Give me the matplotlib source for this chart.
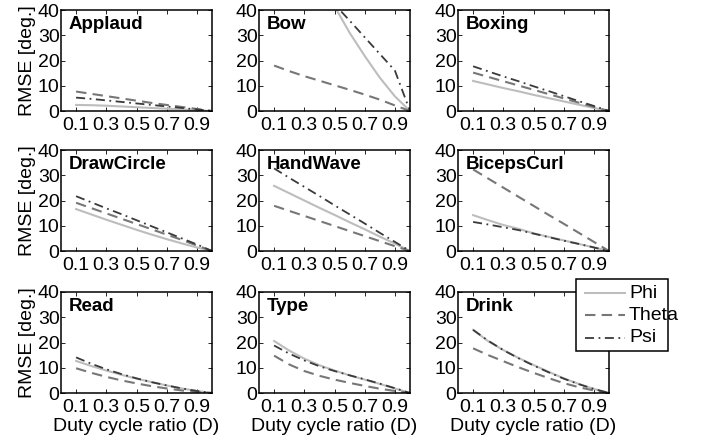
import matplotlib
matplotlib.use("Agg")
import matplotlib.pyplot as plt
from matplotlib.lines import Line2D
from matplotlib.patches import Rectangle

plt.rcParams['font.family'] = ['Liberation Sans', 'DejaVu Sans']

duty = [0.1, 0.2, 0.3, 0.4, 0.5, 0.6, 0.7, 0.8, 0.9, 1.0]
actions = ["Applaud", "Bow", "Boxing", "DrawCircle", "HandWave", "BicepsCurl", "Read", "Type", "Drink"]
series_names = ["Phi", "Theta", "Psi"]

applaud_phi = [2.4, 2.3, 2.1, 1.8, 1.5, 1.2, 0.9, 0.6, 0.3, 0]
applaud_theta = [7.7, 6.8, 5.9, 5.0, 4.1, 3.2, 2.4, 1.6, 0.8, 0]
applaud_psi = [5.3, 4.8, 4.2, 3.6, 3.0, 2.4, 1.8, 1.2, 0.6, 0]

bow_phi = [120, 95, 72, 55, 41.5, 31.0, 21.8, 13.2, 5.8, 0]
bow_theta = [18, 15.8, 13.8, 12, 10.2, 8.4, 6.5, 4.5, 2.2, 0]
bow_psi = [75, 60, 50, 46, 42.3, 35.8, 29.2, 22.6, 16, 0]

boxing_phi = [11.9, 10.5, 9.1, 7.8, 6.4, 5.1, 3.8, 2.5, 1.2, 0]
boxing_theta = [15.2, 13.5, 11.8, 10.1, 8.4, 6.7, 5.0, 3.3, 1.6, 0]
boxing_psi = [17.7, 15.7, 13.7, 11.8, 9.8, 7.9, 5.9, 3.9, 2.0, 0]

drawcircle_phi = [16.6, 14.5, 12.4, 10.4, 8.4, 6.5, 4.7, 3.0, 1.4, 0]
drawcircle_theta = [19.1, 17.0, 14.9, 12.8, 10.7, 8.6, 6.5, 4.4, 2.2, 0]
drawcircle_psi = [21.7, 19.3, 16.9, 14.6, 12.2, 9.8, 7.4, 5.0, 2.6, 0]

handwave_phi = [25.8, 22.9, 20.0, 17.1, 14.3, 11.4, 8.6, 5.7, 2.9, 0]
handwave_theta = [17.9, 15.9, 13.9, 11.9, 9.9, 7.9, 5.9, 3.9, 1.9, 0]
handwave_psi = [32.7, 29.0, 25.4, 21.8, 18.1, 14.5, 10.9, 7.2, 3.6, 0]

bicepscurl_phi = [14.2, 12.2, 10.3, 8.8, 7.0, 5.6, 4.2, 2.8, 1.4, 0]
bicepscurl_theta = [32.3, 28.7, 25.1, 21.5, 17.9, 14.3, 10.8, 7.2, 3.6, 0]
bicepscurl_psi = [11.5, 10.5, 9.4, 8.3, 6.9, 5.5, 4.1, 2.8, 1.4, 0]

read_phi = [12.7, 10.7, 8.9, 7.2, 5.7, 4.3, 3.0, 1.8, 0.8, 0]
read_theta = [9.8, 8.0, 6.4, 5.0, 3.8, 2.7, 1.8, 1.0, 0.4, 0]
read_psi = [14.1, 11.6, 9.4, 7.5, 5.8, 4.3, 3.0, 1.8, 0.8, 0]

type_phi = [20.6, 16.8, 13.6, 11.0, 8.9, 7.0, 5.3, 3.6, 1.8, 0]
type_theta = [14.8, 11.3, 8.7, 6.8, 5.3, 4.0, 2.8, 1.7, 0.8, 0]
type_psi = [18.8, 15.6, 12.9, 10.6, 8.7, 7.0, 5.4, 3.7, 1.9, 0]

drink_phi = [25.0, 20.5, 17.0, 13.9, 11.1, 8.4, 5.8, 3.6, 1.6, 0]
drink_theta = [17.7, 15.0, 12.6, 10.2, 8.0, 5.9, 3.9, 2.3, 1.0, 0]
drink_psi = [25.0, 20.7, 17.0, 13.8, 10.9, 8.2, 5.7, 3.5, 1.6, 0]

data = {
    "Applaud": (applaud_phi, applaud_theta, applaud_psi),
    "Bow": (bow_phi, bow_theta, bow_psi),
    "Boxing": (boxing_phi, boxing_theta, boxing_psi),
    "DrawCircle": (drawcircle_phi, drawcircle_theta, drawcircle_psi),
    "HandWave": (handwave_phi, handwave_theta, handwave_psi),
    "BicepsCurl": (bicepscurl_phi, bicepscurl_theta, bicepscurl_psi),
    "Read": (read_phi, read_theta, read_psi),
    "Type": (type_phi, type_theta, type_psi),
    "Drink": (drink_phi, drink_theta, drink_psi),
}

xticks = [0.1, 0.3, 0.5, 0.7, 0.9]
xticklabels = ["0.1", "0.3", "0.5", "0.7", "0.9"]
yticks = [0, 10, 20, 30, 40]
yticklabels = ["0", "10", "20", "30", "40"]

styles = [
    dict(color="#bdbdbd", linestyle="-", lw=1.5),
    dict(color="#777777", linestyle=(0, (5, 3)), lw=1.5),
    dict(color="#3a3a3a", linestyle=(0, (5, 2.5, 1, 2.5)), lw=1.3),
]

W, H = 706, 443
fig = plt.figure(figsize=(W / 100, H / 100), dpi=100)

col_left = [61, 259, 458]
row_top = [10, 150, 292]
aw, ah = 151, 101
FS = 14

for i, name in enumerate(actions):
    r, c = divmod(i, 3)
    left = col_left[c] / W
    bottom = (H - row_top[r] - ah) / H
    ax = fig.add_axes([left, bottom, aw / W, ah / H])
    for s, vals in enumerate(data[name]):
        ax.plot(duty, vals, label=series_names[s], **styles[s])
    ax.set_xlim(0, 1)
    ax.set_ylim(0, 40)
    ax.set_xticks(xticks)
    ax.set_xticklabels(xticklabels)
    ax.set_yticks(yticks)
    ax.set_yticklabels(yticklabels)
    ax.tick_params(direction="in", top=True, right=True, length=3, width=0.6,
                   labelsize=FS)
    ax.tick_params(axis="y", pad=1)
    ax.tick_params(axis="x", pad=4.5)
    for sp in ax.spines.values():
        sp.set_linewidth(1.1)
    ax.text(8 / aw, 1 - 6 / ah, name, transform=ax.transAxes, ha="left", va="top",
            fontsize=13.5, fontweight="bold")
    if c == 0:
        ax.set_ylabel("RMSE [deg.]", fontsize=FS, labelpad=1)
    if r == 2:
        ax.set_xlabel("Duty cycle ratio (D)", fontsize=FS, labelpad=1.5)

# legend box drawn in figure pixel coordinates (text overflows like the original)
def fx(px):
    return px / W

def fy(py):
    return 1 - py / H

fig.add_artist(Rectangle((fx(576), fy(351)), fx(668) - fx(576), fy(279) - fy(351),
                         transform=fig.transFigure, facecolor="white",
                         edgecolor="black", lw=1.1, zorder=5))
leg_y = [293, 315, 338]
for s, name in enumerate(series_names):
    fig.add_artist(Line2D([fx(585), fx(625)], [fy(leg_y[s]), fy(leg_y[s])],
                          transform=fig.transFigure, zorder=6, **styles[s]))
    fig.text(fx(629), fy(leg_y[s]), name, ha="left", va="center", fontsize=FS,
             zorder=7)

fig.savefig("out.png", dpi=100)
